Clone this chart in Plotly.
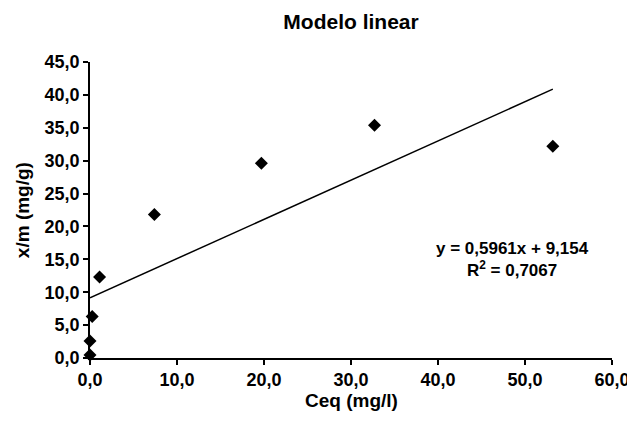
import plotly.graph_objects as go

ceq = [0.0, 0.0, 0.25, 1.1, 7.4, 19.7, 32.7, 53.2]
xm = [0.45, 2.6, 6.3, 12.3, 21.8, 29.6, 35.4, 32.2]

slope = 0.5961
intercept = 9.154
r2 = 0.7067

line_x = [0.0, max(ceq)]
line_y = [slope * v + intercept for v in line_x]

font = "Liberation Sans, Arial, sans-serif"
bold = dict(family=font, color="black", weight="bold")

fig = go.Figure()
fig.add_trace(go.Scatter(x=line_x, y=line_y, mode="lines",
                         line=dict(color="black", width=1.5), showlegend=False))
fig.add_trace(go.Scatter(x=ceq, y=xm, mode="markers", cliponaxis=False,
                         marker=dict(symbol="diamond", color="black", size=10),
                         showlegend=False))

fig.add_annotation(x=48.6, y=14.9, xref="x", yref="y", showarrow=False,
                   text="y = 0,5961x + 9,154<br>R<sup>2</sup> = 0,7067",
                   font=dict(bold, size=17), align="center")

# axis titles as annotations so they sit as close to the ticks as in the original
fig.add_annotation(x=0.5, y=-0.142, xref="paper", yref="paper", showarrow=False,
                   text="Ceq (mg/l)", xanchor="center", yanchor="middle",
                   font=dict(bold, size=19))
fig.add_annotation(x=-0.13, y=0.5, xref="paper", yref="paper", showarrow=False,
                   text="x/m (mg/g)", textangle=-90, xanchor="center", yanchor="middle",
                   font=dict(bold, size=19))

# page has an 8px body margin, so the figure is sized to fit the 635x430 window
fig.update_layout(
    width=627, height=422,
    paper_bgcolor="white", plot_bgcolor="white",
    separators=", ",
    margin=dict(l=82, r=23, t=54, b=72),
    title=dict(text="Modelo linear", x=0.5, xref="paper", y=0.968, yref="container",
               xanchor="center", yanchor="middle", font=dict(bold, size=21)),
)
fig.update_xaxes(range=[0, 60], dtick=10, tickformat=".1f", showgrid=False, zeroline=False,
                 showline=True, linecolor="black", linewidth=1.5, ticks="outside",
                 ticklen=5, tickwidth=1.5, tickcolor="black", automargin=False,
                 tickfont=dict(bold, size=18))
fig.update_yaxes(range=[0, 45], dtick=5, tickformat=".1f", showgrid=False, zeroline=False,
                 showline=True, linecolor="black", linewidth=1.5, ticks="outside",
                 ticklen=5, tickwidth=1.5, tickcolor="black", automargin=False,
                 tickfont=dict(bold, size=18))

fig.write_html("out.html")
